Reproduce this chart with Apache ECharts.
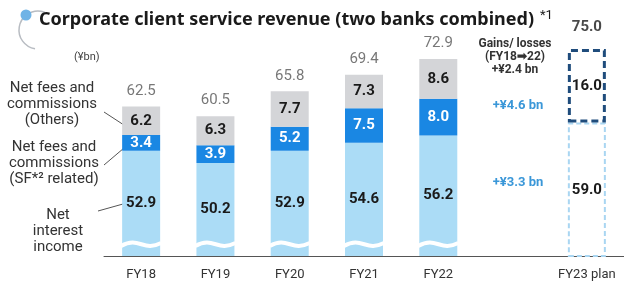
<!DOCTYPE html>
<html>
<head>
<meta charset="utf-8">
<script src="https://cdn.jsdelivr.net/npm/echarts@6/dist/echarts.min.js"></script>
<style>
  html, body { margin: 0; padding: 0; background: #fff; }
  #chart { width: 624px; height: 290px; }
</style>
</head>
<body>
<div id="chart"></div>
<script>
// categories (blank slot keeps the gap before the plan bar)
const categories = ['FY18', 'FY19', 'FY20', 'FY21', 'FY22', '', 'FY23 plan']
const interestIncome = [52.9, 50.2, 52.9, 54.6, 56.2, '-', '-']
const sfFees = [3.4, 3.9, 5.2, 7.5, 8.0, '-', '-']
const otherFees = [6.2, 6.3, 7.7, 7.3, 8.6, '-', '-']
const totals = [62.5, 60.5, 65.8, 69.4, 72.9, '-', 75.0]
const planInterest = ['-', '-', '-', '-', '-', '-', 59.0]
const planFees = ['-', '-', '-', '-', '-', '-', 16.0]
const breakAt = 32.6 // value where the axis-break wave sits

const LIGHT = '#abdcf6'
const BLUE = '#1a87e3'
const GREY = '#d4d5d8'
const NAVY = '#1f4c7c'

const chart = echarts.init(document.getElementById('chart'))

const insideLabel = (color) => ({
  show: true,
  position: 'inside',
  color: color,
  fontFamily: 'Roboto',
  fontWeight: 'bold',
  fontSize: 15,
  formatter: (p) => Number(p.value).toFixed(1)
})

const note = (x, y, text, extra) => ({
  type: 'text',
  x: x,
  y: y,
  style: Object.assign({
    text: text,
    textAlign: 'center',
    fontFamily: 'Roboto',
    fontSize: 15,
    lineHeight: 16,
    fill: '#333'
  }, extra || {})
})

const option = {
  animation: false,
  grid: { left: 104, width: 525, top: 26, bottom: 34 },
  xAxis: {
    type: 'category',
    data: categories,
    axisLine: { lineStyle: { color: '#555', width: 1 } },
    axisTick: { show: false },
    axisLabel: { color: '#333', fontFamily: 'Roboto', fontSize: 13, margin: 12, interval: 0 }
  },
  yAxis: { type: 'value', min: 30, max: 80, show: false, splitLine: { show: false } },
  series: [
    {
      name: 'Net interest income',
      type: 'bar',
      stack: 'a',
      barWidth: 38,
      itemStyle: { color: LIGHT },
      label: insideLabel('#1a1a1a'),
      data: interestIncome
    },
    {
      name: 'SF related',
      type: 'bar',
      stack: 'a',
      itemStyle: { color: BLUE },
      label: insideLabel('#fff'),
      data: sfFees
    },
    {
      name: 'Others',
      type: 'bar',
      stack: 'a',
      itemStyle: { color: GREY },
      label: insideLabel('#1a1a1a'),
      data: otherFees
    },
    {
      name: 'Plan interest',
      type: 'bar',
      stack: 'a',
      itemStyle: { color: '#fff', borderColor: '#a9d6f2', borderWidth: 2, borderType: [5, 3] },
      label: insideLabel('#1a1a1a'),
      data: planInterest
    },
    {
      name: 'Plan fees',
      type: 'bar',
      stack: 'a',
      itemStyle: { color: 'rgba(255,255,255,0)', borderColor: NAVY, borderWidth: 3, borderType: [7, 4] },
      label: insideLabel('#1a1a1a'),
      data: planFees
    },
    {
      name: 'Total',
      type: 'scatter',
      symbolSize: 0,
      data: totals.map((v, i) => i === 6
        ? { value: v, label: { color: '#1a1a1a', fontWeight: 'bold', distance: 14 } }
        : v),
      label: {
        show: true,
        position: 'top',
        distance: 8,
        fontFamily: 'Roboto',
        fontSize: 15,
        color: '#555',
        formatter: (p) => Number(p.value).toFixed(1)
      },
      z: 5
    },
    {
      // axis-break wave across the real bars
      name: 'break',
      type: 'custom',
      data: [0, 1, 2, 3, 4].map((i) => [i, breakAt]),
      renderItem: (params, api) => {
        const c = api.coord([api.value(0), api.value(1)])
        const w = 40
        const x0 = c[0] - w / 2
        const x1 = c[0] + w / 2
        return {
          type: 'bezierCurve',
          shape: {
            x1: x0, y1: c[1] + 2,
            x2: x1, y2: c[1] - 1,
            cpx1: x0 + w * 0.45, cpy1: c[1] - 8,
            cpx2: x0 + w * 0.55, cpy2: c[1] + 8
          },
          style: { stroke: '#fff', lineWidth: 4, fill: null }
        }
      },
      z: 10
    }
  ],
  graphic: [
    // title decoration
    { type: 'arc', shape: { cx: 38, cy: 30, r: 19, startAngle: Math.PI * 0.55, endAngle: Math.PI * 1.62 },
      style: { stroke: '#b8bcc2', lineWidth: 1.5, fill: null } },
    { type: 'circle', shape: { cx: 26, cy: 15, r: 5.5 }, style: { fill: '#6fb3e6' } },
    { type: 'text', left: 39, top: 11,
      style: { text: 'Corporate client service revenue (two banks combined)', fontFamily: 'Noto Sans', fontWeight: 'bold', fontSize: 18, fill: '#1a1a1a' } },
    { type: 'text', left: 540, top: 9, style: { text: '*1', fontFamily: 'Roboto', fontSize: 13, fill: '#1a1a1a' } },
    { type: 'text', left: 74, top: 52, style: { text: '(¥bn)', fontFamily: 'Roboto', fontSize: 11, fill: '#444' } },
    // left annotations
    note(52, 80, 'Net fees and\ncommissions\n(Others)'),
    note(54, 139, 'Net fees and\ncommissions\n(SF*² related)'),
    note(58, 207, 'Net\ninterest\nincome'),
    { type: 'line', shape: { x1: 104, y1: 112, x2: 127, y2: 127 }, style: { stroke: '#555', lineWidth: 1 } },
    { type: 'line', shape: { x1: 104, y1: 165, x2: 124, y2: 148 }, style: { stroke: '#555', lineWidth: 1 } },
    { type: 'line', shape: { x1: 98, y1: 211, x2: 123, y2: 204 }, style: { stroke: '#555', lineWidth: 1 } },
    // right annotations
    note(515, 37, 'Gains/ losses\n(FY18➡22)\n+¥2.4 bn', { fontWeight: 'bold', fontSize: 12, lineHeight: 13 }),
    note(518, 98, '+¥4.6 bn', { fontWeight: 'bold', fontSize: 13, fill: '#3a97d8' }),
    note(518, 175, '+¥3.3 bn', { fontWeight: 'bold', fontSize: 13, fill: '#3a97d8' })
  ]
}

chart.setOption(option)
</script>
</body>
</html>
